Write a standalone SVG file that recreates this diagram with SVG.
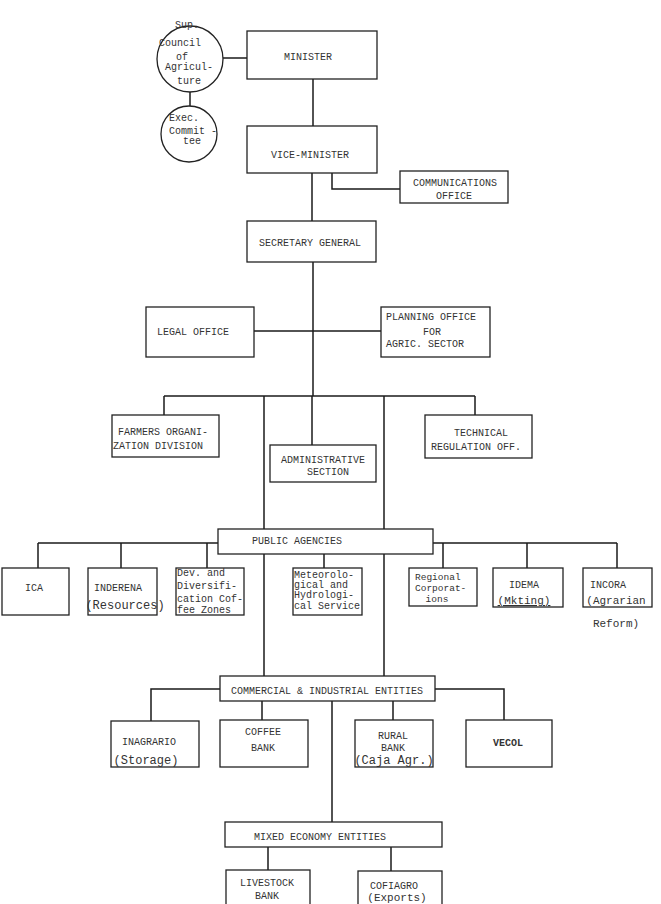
<svg xmlns="http://www.w3.org/2000/svg" width="661" height="904" viewBox="0 0 661 904">
<style>
.bg{fill:#fff}
.c line,.c polyline{stroke:#1a1a1a;stroke-width:1.5;fill:none}
.n rect,.n circle{fill:#fff;stroke:#222;stroke-width:1.3}
text{font-family:"Liberation Mono","DejaVu Sans Mono",monospace;font-size:10px;fill:#333}
.m{text-anchor:middle}
.big{font-size:12px}
.sm{font-size:9.5px}
.b{font-weight:bold}
</style>
<rect class="bg" x="0" y="0" width="661" height="904"/>
<g id="connectors" class="c">
<line x1="223" y1="58" x2="247" y2="58"/>
<line x1="190" y1="92" x2="190" y2="106"/>
<line x1="313" y1="79" x2="313" y2="126"/>
<line x1="312" y1="173" x2="312" y2="221"/>
<polyline points="332,173 332,189 400,189"/>
<line x1="313" y1="262" x2="313" y2="396"/>
<line x1="254" y1="331" x2="381" y2="331"/>
<line x1="164" y1="396" x2="475" y2="396"/>
<line x1="164" y1="396" x2="164" y2="415"/>
<line x1="475" y1="396" x2="475" y2="415"/>
<line x1="312" y1="396" x2="312" y2="445"/>
<line x1="264" y1="396" x2="264" y2="676"/>
<line x1="384" y1="396" x2="384" y2="676"/>
<line x1="38" y1="543" x2="218" y2="543"/>
<line x1="38" y1="543" x2="38" y2="568"/>
<line x1="121" y1="543" x2="121" y2="568"/>
<line x1="207" y1="543" x2="207" y2="568"/>
<line x1="433" y1="543" x2="617" y2="543"/>
<line x1="443" y1="543" x2="443" y2="568"/>
<line x1="527" y1="543" x2="527" y2="568"/>
<line x1="617" y1="543" x2="617" y2="568"/>
<line x1="324" y1="554" x2="324" y2="568"/>
<polyline points="220,689 151,689 151,721"/>
<polyline points="435,689 504,689 504,720"/>
<line x1="262" y1="701" x2="262" y2="720"/>
<line x1="393" y1="701" x2="393" y2="720"/>
<line x1="332" y1="701" x2="332" y2="822"/>
<line x1="268" y1="847" x2="268" y2="870"/>
<line x1="391" y1="847" x2="391" y2="871"/>
</g>
<g id="sup-council" class="n"><circle cx="190" cy="59" r="33"/>
<text x="187" y="28" class="m">Sup.</text><text x="180" y="46" class="m">Council</text><text x="182" y="60" class="m">of</text><text x="189" y="70" class="m">Agricul-</text><text x="189" y="84" class="m">ture</text></g>
<g id="exec-committee" class="n"><circle cx="189" cy="134" r="28"/>
<text x="184" y="121" class="m">Exec.</text><text x="193" y="134" class="m">Commit -</text><text x="192" y="144" class="m">tee</text></g>
<g id="minister" class="n"><rect x="247" y="31" width="130" height="48"/><text x="308" y="60" class="m">MINISTER</text></g>
<g id="vice-minister" class="n"><rect x="247" y="126" width="130" height="47"/><text x="310" y="158" class="m">VICE-MINISTER</text></g>
<g id="communications" class="n"><rect x="400" y="171" width="108" height="32"/><text x="455" y="186" class="m">COMMUNICATIONS</text><text x="454" y="199" class="m">OFFICE</text></g>
<g id="secretary" class="n"><rect x="247" y="221" width="129" height="41"/><text x="310" y="246" class="m">SECRETARY GENERAL</text></g>
<g id="legal" class="n"><rect x="146" y="307" width="108" height="50"/><text x="193" y="335" class="m">LEGAL OFFICE</text></g>
<g id="planning" class="n"><rect x="381" y="307" width="109" height="50"/><text x="386" y="320">PLANNING OFFICE</text><text x="432" y="335" class="m">FOR</text><text x="386" y="347">AGRIC. SECTOR</text></g>
<g id="farmers" class="n"><rect x="112" y="415" width="107" height="42"/><text x="118" y="435">FARMERS ORGANI-</text><text x="113" y="449">ZATION DIVISION</text></g>
<g id="admin" class="n"><rect x="270" y="445" width="106" height="37"/><text x="323" y="463" class="m">ADMINISTRATIVE</text><text x="328" y="475" class="m">SECTION</text></g>
<g id="technical" class="n"><rect x="425" y="415" width="107" height="43"/><text x="481" y="436" class="m">TECHNICAL</text><text x="476" y="450" class="m">REGULATION OFF.</text></g>
<g id="public-agencies" class="n"><rect x="218" y="529" width="215" height="25"/><text x="252" y="544">PUBLIC  AGENCIES</text></g>
<g id="ica" class="n"><rect x="2" y="568" width="67" height="47"/><text x="34" y="591" class="m">ICA</text></g>
<g id="inderena" class="n"><rect x="88" y="568" width="69" height="47"/><text x="118" y="591" class="m">INDERENA</text><text x="125" y="609" class="m big">(Resources)</text></g>
<g id="dev-diversification" class="n"><rect x="176" y="568" width="68" height="47"/><text x="177" y="576">Dev. and</text><text x="177" y="589">Diversifi-</text><text x="177" y="602">cation Cof-</text><text x="177" y="613">fee Zones</text></g>
<g id="meteorological" class="n"><rect x="293" y="568" width="69" height="47"/><text x="294" y="578">Meteorolo-</text><text x="294" y="588">gical and</text><text x="294" y="598">Hydrologi-</text><text x="294" y="609">cal Service</text></g>
<g id="regional" class="n"><rect x="409" y="568" width="68" height="38"/><text x="415" y="580" class="sm">Regional</text><text x="415" y="591" class="sm">Corporat-</text><text x="437" y="602" class="m sm">ions</text></g>
<g id="idema" class="n"><rect x="493" y="568" width="70" height="39"/><text x="524" y="588" class="m">IDEMA</text><text x="524" y="604" class="m" style="font-size:11px" text-decoration="underline">(Mkting)</text></g>
<g id="incora" class="n"><rect x="583" y="568" width="69" height="39"/><text x="608" y="588" class="m">INCORA</text><text x="616" y="604" class="m" style="font-size:11px">(Agrarian</text><text x="616" y="627" class="m" style="font-size:11px">Reform)</text></g>
<g id="commercial" class="n"><rect x="220" y="676" width="215" height="25"/><text x="327" y="694" class="m">COMMERCIAL &amp; INDUSTRIAL ENTITIES</text></g>
<g id="inagrario" class="n"><rect x="111" y="721" width="88" height="46"/><text x="149" y="745" class="m">INAGRARIO</text><text x="146" y="764" class="m big">(Storage)</text></g>
<g id="coffee-bank" class="n"><rect x="220" y="720" width="88" height="47"/><text x="263" y="735" class="m">COFFEE</text><text x="263" y="751" class="m">BANK</text></g>
<g id="rural-bank" class="n"><rect x="355" y="720" width="78" height="47"/><text x="393" y="739" class="m">RURAL</text><text x="393" y="751" class="m">BANK</text><text x="394" y="764" class="m big">(Caja Agr.)</text></g>
<g id="vecol" class="n"><rect x="466" y="720" width="86" height="47"/><text x="508" y="746" class="m b">VECOL</text></g>
<g id="mixed" class="n"><rect x="225" y="822" width="217" height="25"/><text x="320" y="840" class="m">MIXED ECONOMY ENTITIES</text></g>
<g id="livestock" class="n"><rect x="226" y="870" width="84" height="40"/><text x="267" y="886" class="m">LIVESTOCK</text><text x="267" y="899" class="m">BANK</text></g>
<g id="cofiagro" class="n"><rect x="358" y="871" width="84" height="40"/><text x="394" y="889" class="m">COFIAGRO</text><text x="397" y="901" class="m" style="font-size:11px">(Exports)</text></g>
</svg>
